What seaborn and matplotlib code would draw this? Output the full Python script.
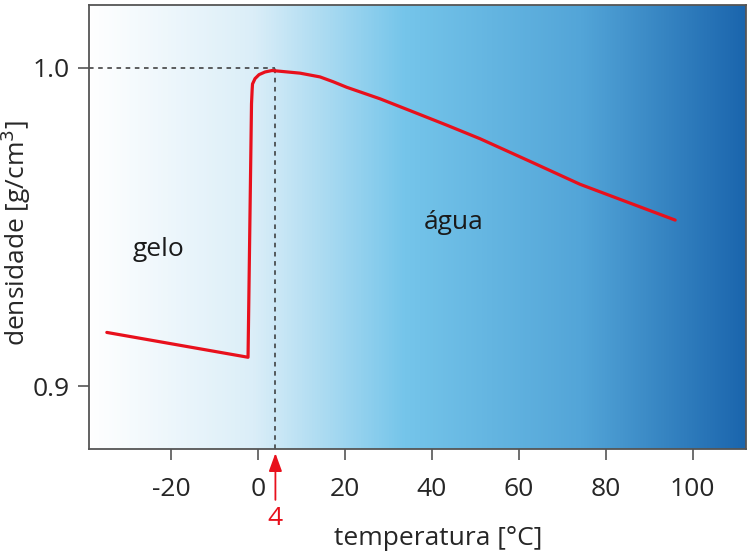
import numpy as np
import pandas as pd
import matplotlib.pyplot as plt
from matplotlib.colors import LinearSegmentedColormap
import seaborn as sns

# curve (temperatura in °C, densidade in g/cm3)
temperatura = [-34.8, -2.3, -1.5, -1.35, -1.27, -0.69, 0.23, 1.61, 3.22, 5.06,
               9.67, 14.27, 17.3, 20.41, 28.08, 35.75, 43.43, 51.1, 62.6,
               74.1, 96.0]
densidade = [0.9169, 0.9091, 0.9887, 0.9932, 0.9949, 0.99659, 0.99783, 0.99867,
             0.99913, 0.99890, 0.99830, 0.99712, 0.99560, 0.99387, 0.99025,
             0.98613, 0.98198, 0.97771, 0.97060, 0.96341, 0.95217]

x_ticks = [-20, 0, 20, 40, 60, 80, 100]
y_ticks = [0.9, 1.0]
t_max_dens = 4
rho_max = 1.0

df = pd.DataFrame({'temperatura': temperatura, 'densidade': densidade})

sns.set_style('ticks')
plt.rcParams['font.family'] = ['Open Sans', 'DejaVu Sans']
plt.rcParams['text.color'] = '#1a1a1a'

fig = plt.figure(figsize=(7.5, 5.58), dpi=100)
ax = fig.add_axes([89 / 750, 1 - 449 / 558, 657 / 750, 444 / 558])

xmin, xmax = -38.9, 112.3
ymin, ymax = 0.8803, 1.0197

# fundo em degradê
cmap = LinearSegmentedColormap.from_list(
    'agua', [(0, '#ffffff'), (0.25, '#dbeef8'), (0.48, '#75c5ea'),
             (0.75, '#53a5d8'), (1.0, '#1b65ad')])
grad = np.linspace(0, 1, 512).reshape(1, -1)
ax.imshow(grad, cmap=cmap, aspect='auto', extent=[xmin, xmax, ymin, ymax],
          zorder=0)

# linhas tracejadas até o máximo
ax.plot([xmin, t_max_dens], [rho_max, rho_max], color='#333333', lw=1.1,
        ls=(0, (3, 3)), zorder=1)
ax.plot([t_max_dens, t_max_dens], [ymin, rho_max], color='#333333', lw=1.1,
        ls=(0, (3, 3)), zorder=1)

sns.lineplot(data=df, x='temperatura', y='densidade', sort=False,
             color='#e8101c', lw=2.3, ax=ax, zorder=2)
ax.lines[-1].set_solid_joinstyle('round')

ax.set_xlim(xmin, xmax)
ax.set_ylim(ymin, ymax)
ax.set_xticks(x_ticks)
ax.set_yticks(y_ticks)
ax.set_xticklabels([str(v) for v in x_ticks])
ax.set_yticklabels(['0.9', '1.0'])
ax.tick_params(labelsize=19, length=8, width=1.2, color='#555555')
ax.tick_params(axis='x', pad=12)
ax.tick_params(axis='y', pad=6)

for s in ax.spines.values():
    s.set_color('#555555')
    s.set_linewidth(1.3)

ax.text(-23, 0.9429, 'gelo', fontsize=19, ha='center', va='center')
ax.text(44.9, 0.9515, 'água', fontsize=19, ha='center', va='center')

ax.set_xlabel('temperatura [°C]', fontsize=19)
ax.set_ylabel('densidade [g/cm$^3$]', fontsize=19)
ax.xaxis.set_label_coords((438 - 89) / 657, -77 / 444)
ax.yaxis.set_label_coords(-56 / 657, (449 - 233) / 444)

# seta vermelha do 4
ax.annotate('4', xy=(t_max_dens, ymin), xycoords='data',
            xytext=(0, -50), textcoords='offset points',
            ha='center', va='center', fontsize=19, color='#e8101c',
            arrowprops=dict(arrowstyle='-|>,head_length=1.1,head_width=0.4',
                            color='#e8101c', lw=1.3, mutation_scale=10,
                            shrinkA=2, shrinkB=3),
            annotation_clip=False)

plt.savefig('out.png', dpi=100)
